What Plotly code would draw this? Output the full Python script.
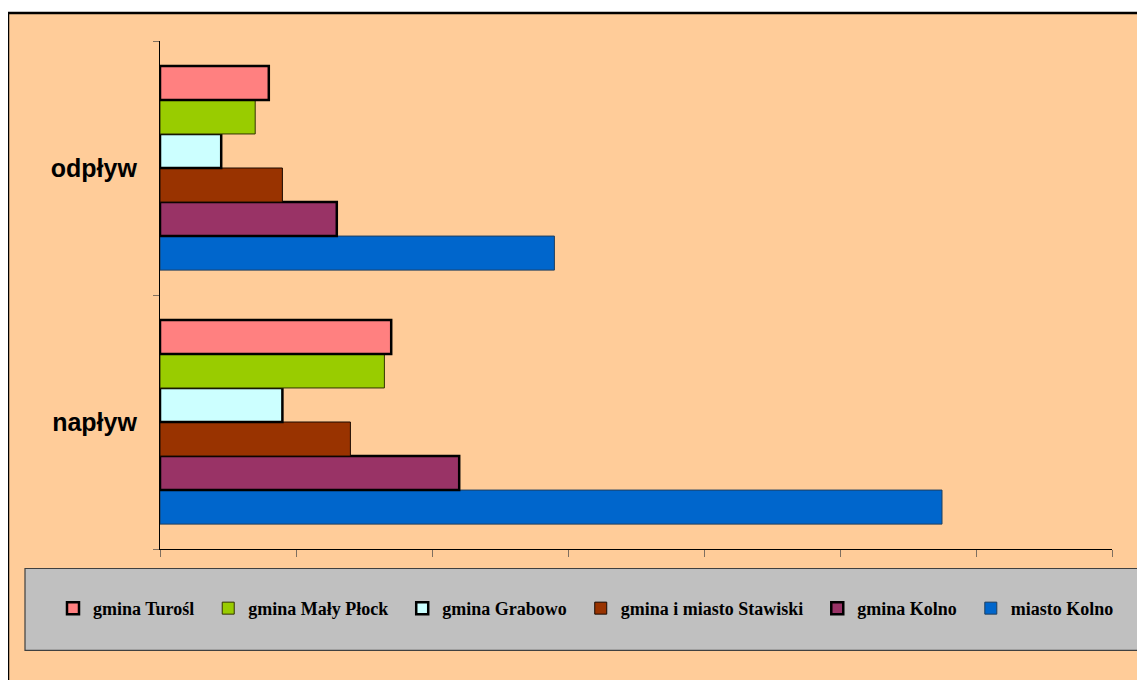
import plotly.graph_objects as go

categories = ["napływ", "odpływ"]
series_names = ["gmina Turośl", "gmina Mały Płock", "gmina Grabowo",
                "gmina i miasto Stawiski", "gmina Kolno", "miasto Kolno"]
# values: [napływ, odpływ]
v_turosl = [17.0, 8.0]
v_maly_plock = [16.5, 7.0]
v_grabowo = [9.0, 4.5]
v_stawiski = [14.0, 9.0]
v_gmina_kolno = [22.0, 13.0]
v_miasto_kolno = [57.5, 29.0]
series_values = [v_turosl, v_maly_plock, v_grabowo, v_stawiski, v_gmina_kolno, v_miasto_kolno]

colors = ["#FF8080", "#99CC00", "#CCFFFF", "#993300", "#993366", "#0066CC"]
line_colors = ["#000000", "#333300", "#000000", "#1a0a00", "#000000", "#1f3f5f"]
line_widths = [2.5, 1, 2.5, 1, 2.5, 1]

# page has an 8px body margin; work in figure coordinates (page - 8)
OFF = 8
W, H = 1145 - OFF, 680 - OFF
L, R, T, B = 160 - OFF, 1112 - OFF, 41 - OFF, 549.5 - OFF
PW, PH = R - L, B - T

def px_x(x):
    return (x - OFF - L) / PW

def px_y(y):
    return (B - (y - OFF)) / PH

NB = "\u00a0\u00a0"
fig = go.Figure()
for i in reversed(range(len(series_names))):
    fig.add_trace(go.Bar(
        y=categories, x=series_values[i], name=series_names[i] + NB, orientation="h",
        marker=dict(color=colors[i], line=dict(color=line_colors[i], width=line_widths[i])),
    ))

shapes = [
    dict(type="rect", xref="paper", yref="paper", layer="below",
         x0=px_x(8), x1=px_x(1170), y0=px_y(13), y1=px_y(700),
         fillcolor="#FFCC99", line=dict(color="black", width=2.5)),
    dict(type="rect", xref="paper", yref="paper", layer="below",
         x0=px_x(25), x1=px_x(1170), y0=px_y(569), y1=px_y(651),
         fillcolor="#C0C0C0", line=dict(color="#404040", width=1.2)),
]

fig.update_layout(
    width=W, height=H,
    margin=dict(l=L, r=W - R, t=T, b=H - B, pad=0),
    paper_bgcolor="white", plot_bgcolor="rgba(0,0,0,0)",
    barmode="group", bargap=0.196, bargroupgap=0,
    shapes=shapes,
    showlegend=True,
    legend=dict(orientation="h", traceorder="reversed",
                x=px_x(53), xanchor="left", y=px_y(609), yanchor="middle",
                bgcolor="rgba(0,0,0,0)", borderwidth=0,
                font=dict(family="Liberation Serif", size=18, color="black",
                          weight="bold"),
                itemwidth=30, itemclick=False),
    xaxis=dict(range=[0, 70], dtick=10, showticklabels=False, showgrid=False,
               zeroline=False, showline=True, linecolor="black", linewidth=1.2,
               ticks="outside", ticklen=7, tickcolor="#7f6f5f", tickwidth=1.2,
               fixedrange=True),
    yaxis=dict(type="category", categoryorder="array", categoryarray=categories,
               showgrid=False, zeroline=False, showline=True, linecolor="black",
               linewidth=1.2, ticks="outside", ticklen=6, tickcolor="#7f6f5f",
               tickwidth=1.2, tickson="boundaries", ticklabelstandoff=17,
               tickfont=dict(family="Liberation Sans", size=25, color="black",
                             weight="bold"),
               fixedrange=True),
)

fig.write_html("out.html")
